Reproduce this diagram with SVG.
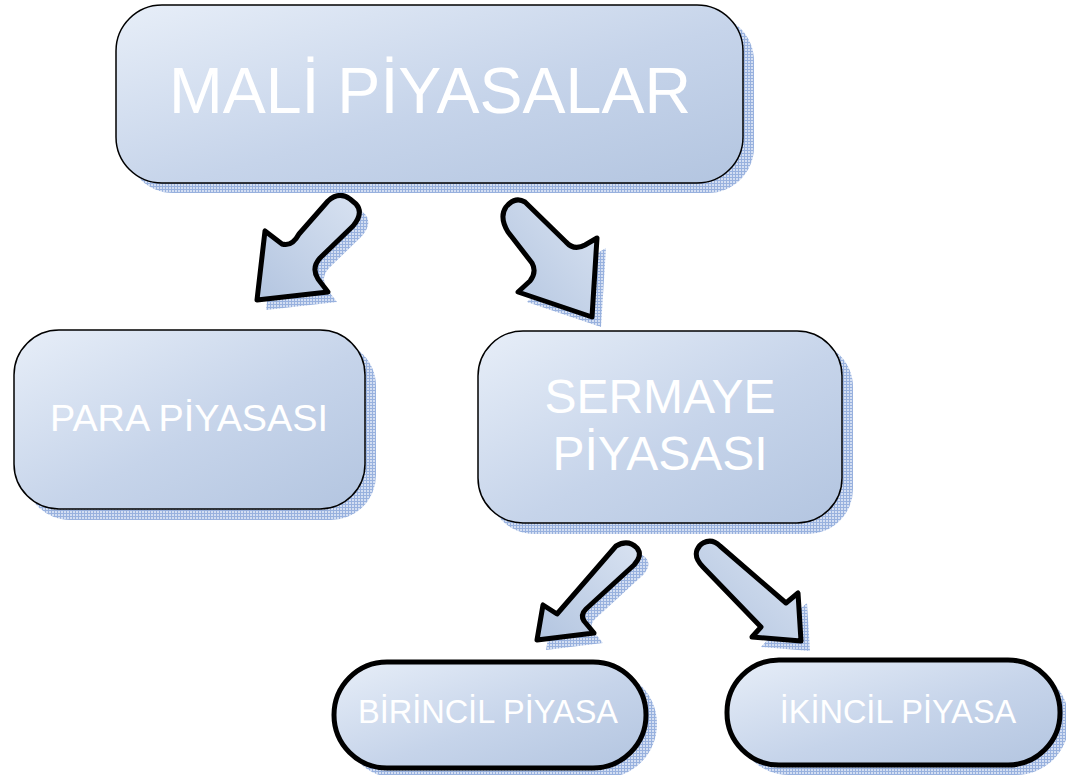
<svg xmlns="http://www.w3.org/2000/svg" width="1066" height="775" viewBox="0 0 1066 775">
<defs>
<linearGradient id="g" x1="0" y1="0" x2="1" y2="1">
<stop offset="0" stop-color="#e7eef8"/>
<stop offset="0.55" stop-color="#c6d4ea"/>
<stop offset="1" stop-color="#b3c5e0"/>
</linearGradient>
<linearGradient id="ga" x1="1" y1="0" x2="0" y2="1">
<stop offset="0" stop-color="#d8e2f1"/>
<stop offset="1" stop-color="#b3c5e0"/>
</linearGradient>
<pattern id="sh" width="3" height="3" patternUnits="userSpaceOnUse">
<rect width="3" height="3" fill="#d3def2"/>
<rect width="1" height="3" fill="#98b1de"/>
<rect width="3" height="1" fill="#98b1de"/>
</pattern>
<style>
.box{fill:url(#g);stroke:#000;stroke-width:1.5}
.pill{fill:url(#g);stroke:#000;stroke-width:5}
.shd{fill:url(#sh);stroke:none}
.arr{fill:url(#ga);stroke:#000;stroke-width:5;stroke-linejoin:round}
.t{fill:#fff;font-family:"Liberation Sans",Arial,sans-serif;text-anchor:middle}
</style>
</defs>
<g id="connectors">
<g id="arrow1">
<path class="shd" transform="translate(9,10)" d="M282,244 L265,231 L257,300 L328,292 L318,279 Q311,268 320,258 L353,226 Q364,213 356,204 L350,199 Q339,191 328,201 L299,234 Q292,247 282,244 Z"/>
<path class="arr" d="M282,244 L265,231 L257,300 L328,292 L318,279 Q311,268 320,258 L353,226 Q364,213 356,204 L350,199 Q339,191 328,201 L299,234 Q292,247 282,244 Z"/>
</g>
<g id="arrow2">
<path class="shd" transform="translate(9,10)" d="M525,202 L566,242 Q574,251 585,245 L597,238 L592,317 L518,292 L530,281 Q537,272 532,263 L508,232 Q499,217 506,207 Q515,196 525,202 Z"/>
<path class="arr" d="M525,202 L566,242 Q574,251 585,245 L597,238 L592,317 L518,292 L530,281 Q537,272 532,263 L508,232 Q499,217 506,207 Q515,196 525,202 Z"/>
</g>
<g id="arrow3">
<path class="shd" transform="translate(9,10)" d="M557,614 L543,605 L537,640 L594,633 L584,621 Q580,615 586,609 L634,565 Q643,555 637,548 Q628,539 616,546 Z"/>
<path class="arr" d="M557,614 L543,605 L537,640 L594,633 L584,621 Q580,615 586,609 L634,565 Q643,555 637,548 Q628,539 616,546 Z"/>
</g>
<g id="arrow4">
<path class="shd" transform="translate(9,10)" d="M703,543 Q712,538 720,546 L786,603 L798,593 L801,641 L752,637 L761,627 L703,567 Q694,558 697,550 Q699,545 703,543 Z"/>
<path class="arr" d="M703,543 Q712,538 720,546 L786,603 L798,593 L801,641 L752,637 L761,627 L703,567 Q694,558 697,550 Q699,545 703,543 Z"/>
</g>
</g>
<g id="mali">
<rect class="shd" x="127" y="15" width="627" height="178" rx="46"/>
<rect class="box" x="116" y="5" width="627" height="178" rx="46"/>
<text class="t" x="430" y="113" font-size="64.5">MALİ PİYASALAR</text>
</g>
<g id="para">
<rect class="shd" x="25" y="341" width="351" height="179" rx="45"/>
<rect class="box" x="14" y="330" width="351" height="179" rx="45"/>
<text class="t" x="189" y="431" font-size="37.8">PARA PİYASASI</text>
</g>
<g id="sermaye">
<rect class="shd" x="489" y="342" width="364" height="192" rx="45"/>
<rect class="box" x="478" y="331" width="364" height="192" rx="45"/>
<text class="t" x="660" y="413" font-size="48">SERMAYE</text>
<text class="t" x="660" y="470" font-size="48">PİYASASI</text>
</g>
<g id="birincil">
<rect class="shd" x="343" y="670" width="314" height="108" rx="54"/>
<rect class="pill" x="334" y="662" width="312" height="106" rx="53"/>
<text class="t" x="488" y="723" font-size="32.5">BİRİNCİL PİYASA</text>
</g>
<g id="ikincil">
<rect class="shd" x="736" y="668" width="333" height="107" rx="53"/>
<rect class="pill" x="727" y="660" width="333" height="105" rx="52"/>
<text class="t" x="898" y="723" font-size="32.5">İKİNCİL PİYASA</text>
</g>
</svg>
